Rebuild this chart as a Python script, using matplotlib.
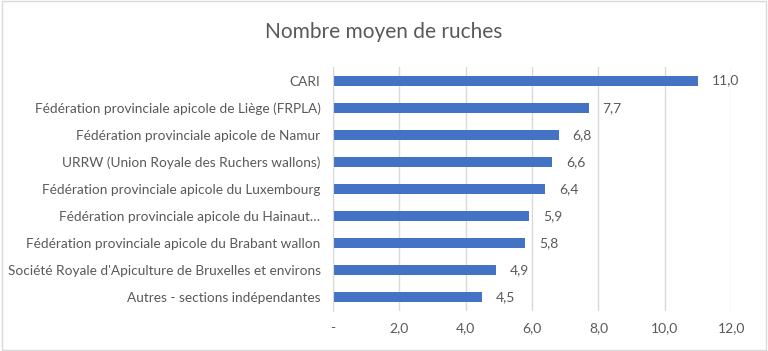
import numpy as np
import matplotlib.pyplot as plt
from matplotlib.patches import Rectangle

plt.rcParams['font.family'] = ['Lato', 'DejaVu Sans']

categories = [
    "CARI",
    "Fédération provinciale apicole de Liège (FRPLA)",
    "Fédération provinciale apicole de Namur",
    "URRW (Union Royale des Ruchers wallons)",
    "Fédération provinciale apicole du Luxembourg",
    "Fédération provinciale apicole du Hainaut…",
    "Fédération provinciale apicole du Brabant wallon",
    "Société Royale d'Apiculture de Bruxelles et environs",
    "Autres - sections indépendantes",
]
values = [11.0, 7.7, 6.8, 6.6, 6.4, 5.9, 5.8, 4.9, 4.5]
xticks = [0, 2, 4, 6, 8, 10, 12]
xticklabels = ["-", "2,0", "4,0", "6,0", "8,0", "10,0", "12,0"]

grey = '#595959'
fig = plt.figure(figsize=(7.68, 3.51), dpi=100)
ax = fig.add_axes([0.4336, 0.114, 0.5185, 0.695])

y = np.arange(len(categories))
ax.barh(y, values, height=0.37, color='#4472C4')
for yi, v in zip(y, values):
    ax.text(v + 0.42, yi, f"{v:.1f}".replace('.', ','), va='center', ha='left',
            fontsize=10, color=grey)

ax.set_ylim(len(categories) - 0.5, -0.5)
ax.set_xlim(0, 12)
ax.set_yticks(y)
ax.set_yticklabels(categories, fontsize=9.8, color=grey)
ax.set_xticks(xticks)
ax.set_xticklabels(xticklabels, fontsize=10, color=grey)
ax.tick_params(axis='y', length=0, pad=9)
ax.tick_params(axis='x', length=0, pad=8)
ax.grid(axis='x', color='#d9d9d9', linewidth=1)
ax.set_axisbelow(True)
for s in ['top', 'right', 'bottom']:
    ax.spines[s].set_visible(False)
ax.spines['left'].set_color('#d9d9d9')

fig.text(0.5, 0.908, "Nombre moyen de ruches", ha='center', va='center',
         fontsize=15, color=grey)
fig.patches.append(Rectangle((0.002, 0.003), 0.996, 0.994, transform=fig.transFigure,
                             fill=False, edgecolor='#d9d9d9', linewidth=1))

plt.savefig("out.png")
